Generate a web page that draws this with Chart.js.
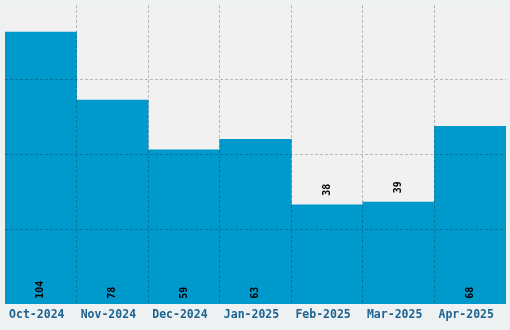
<!DOCTYPE html>
<html>
<head>
<meta charset="utf-8">
<script src="https://cdn.jsdelivr.net/npm/chart.js@4"></script>
<style>
    html, body { margin: 0; padding: 0; background: #eef1f2; }
    #wrap { width: 510px; height: 330px; }
</style>
</head>
<body>
<div id="wrap"><canvas id="monthChart"></canvas></div>
<script>
const months = ['Oct-2024', 'Nov-2024', 'Dec-2024', 'Jan-2025', 'Feb-2025', 'Mar-2025', 'Apr-2025'];
const counts = [104, 78, 59, 63, 38, 39, 68];

const gridColor = 'rgba(0, 0, 0, 0.23)';
const monoFont = "'DejaVu Sans Mono', monospace";

// gray plot area behind the bars
const plotBackground = {
    id: 'plotBackground',
    beforeDraw(chart) {
        const { ctx, chartArea } = chart;
        ctx.save();
        ctx.fillStyle = '#f1f1f1';
        ctx.fillRect(chartArea.left, chartArea.top, chartArea.right - chartArea.left, chartArea.bottom - chartArea.top);
        ctx.restore();
    }
};

// rotated value labels, inside at the base for tall bars, above the top for short ones
const valueLabels = {
    id: 'valueLabels',
    afterDraw(chart) {
        const { ctx } = chart;
        const meta = chart.getDatasetMeta(0);
        ctx.save();
        ctx.font = 'bold 10px ' + monoFont;
        ctx.fillStyle = '#000';
        ctx.textBaseline = 'middle';
        meta.data.forEach((bar, i) => {
            const value = counts[i];
            let y;
            if (value < 45) {
                y = bar.y - 9;
            } else {
                y = bar.base - 5;
            }
            ctx.save();
            ctx.translate(bar.x, y);
            ctx.rotate(-Math.PI / 2);
            ctx.textAlign = 'left';
            ctx.fillText(String(value), 0, 0);
            ctx.restore();
        });
        ctx.restore();
    }
};

new Chart(document.getElementById('monthChart'), {
    type: 'bar',
    data: {
        labels: months,
        datasets: [{
            data: counts,
            backgroundColor: '#0099cc',
            borderWidth: 0,
            categoryPercentage: 1,
            barPercentage: 1
        }]
    },
    options: {
        responsive: true,
        maintainAspectRatio: false,
        animation: false,
        layout: {
            padding: { left: 5, right: 4, top: 5, bottom: 4 }
        },
        scales: {
            x: {
                grid: {
                    z: 1,
                    color: (c) => (c.index === undefined || c.index === 0 || c.index >= months.length) ? 'transparent' : gridColor,
                    borderDash: [3, 2],
                    tickLength: 0
                },
                border: { display: false, dash: [3, 2] },
                ticks: {
                    color: '#1d6391',
                    padding: 4,
                    labelOffset: -4,
                    maxRotation: 0,
                    font: { family: monoFont, size: 11.5, weight: 'bold' }
                }
            },
            y: {
                min: 0,
                max: 114.4,
                border: { display: false, dash: [3, 2] },
                grid: {
                    z: 1,
                    drawTicks: false,
                    borderDash: [3, 2],
                    color: (c) => (c.index === undefined || c.index === 0 || c.index === 4) ? 'transparent' : gridColor
                },
                ticks: { display: false, count: 5 }
            }
        },
        plugins: {
            legend: { display: false },
            tooltip: { enabled: false }
        }
    },
    plugins: [plotBackground, valueLabels]
});
</script>
</body>
</html>
